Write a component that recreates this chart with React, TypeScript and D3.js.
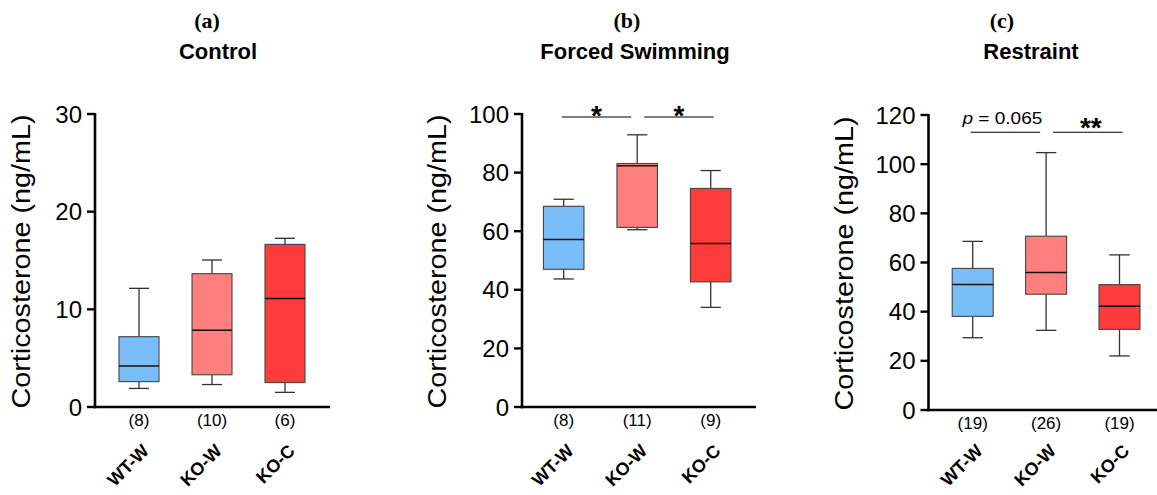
import React from "react";
import * as d3 from "d3";

const categories = ["WT-W", "KO-W", "KO-C"];
const colors = ["#78BDF8", "#FF7F7F", "#FF3B3B"];

const panelLetters = ["(a)", "(b)", "(c)"];
const panelTitles = ["Control", "Forced Swimming", "Restraint"];

// [min, q1, median, q3, max]
const controlStats = [
  [1.9, 2.6, 4.2, 7.2, 12.15],
  [2.3, 3.3, 7.85, 13.65, 15.05],
  [1.5, 2.5, 11.1, 16.65, 17.27],
];
const swimStats = [
  [43.7, 47.0, 57.2, 68.5, 70.9],
  [60.5, 61.3, 82.3, 83.1, 92.9],
  [34.0, 42.7, 55.8, 74.6, 80.7],
];
const restraintStats = [
  [29.4, 38.1, 51.1, 57.6, 68.6],
  [32.4, 47.1, 55.9, 70.7, 104.7],
  [22.0, 32.8, 42.2, 51.0, 63.1],
];

const controlN = ["(8)", "(10)", "(6)"];
const swimN = ["(8)", "(11)", "(9)"];
const restraintN = ["(19)", "(26)", "(19)"];

const controlTicks = [0, 10, 20, 30];
const swimTicks = [0, 20, 40, 60, 80, 100];
const restraintTicks = [0, 20, 40, 60, 80, 100, 120];

const swimSig = [
  { from: 0, to: 1, value: 99, label: "*" },
  { from: 1, to: 2, value: 99, label: "*" },
];
const restraintSig = [
  { from: 0, to: 1, value: 113, label: "p = 0.065" },
  { from: 1, to: 2, value: 113, label: "**" },
];

const yLabel = "Corticosterone (ng/mL)";

const panels = [
  {
    stats: controlStats, n: controlN, ticks: controlTicks, sig: [] as any[],
    axisX: 95, xEnd: 330, yTop: 114, yBottom: 407, c0: 139, c1: 285, boxW: 40,
    letterX: 207, titleX: 218, labelX: 23, starDy: 8,
  },
  {
    stats: swimStats, n: swimN, ticks: swimTicks, sig: swimSig,
    axisX: 522, xEnd: 756, yTop: 114, yBottom: 407, c0: 563.7, c1: 710.7, boxW: 40.5,
    letterX: 627, titleX: 635, labelX: 439, starDy: 8,
  },
  {
    stats: restraintStats, n: restraintN, ticks: restraintTicks, sig: restraintSig,
    axisX: 928.5, xEnd: 1157, yTop: 115, yBottom: 410, c0: 972.7, c1: 1119.5, boxW: 41,
    letterX: 1002, titleX: 1031, labelX: 846, starDy: 5,
  },
];

const sans = "'Liberation Sans', Arial, Helvetica, sans-serif";
const serif = "'Liberation Serif', 'Times New Roman', serif";

function Panel({ p, idx }: { p: any; idx: number }) {
  const domainMax = p.ticks[p.ticks.length - 1];
  const y = d3.scaleLinear().domain([0, domainMax]).range([p.yBottom, p.yTop]);
  const x = d3.scalePoint<string>().domain(categories).range([p.c0, p.c1]);
  const hw = p.boxW / 2;
  const cap = p.boxW / 4;
  const midY = (p.yTop + p.yBottom) / 2 + 1;
  return (
    <g>
      <text x={p.letterX} y={28} textAnchor="middle" fontFamily={serif} fontWeight="bold" fontSize={22}>
        {panelLetters[idx]}
      </text>
      <text x={p.titleX} y={59} textAnchor="middle" fontFamily={sans} fontWeight="bold" fontSize={22}>
        {panelTitles[idx]}
      </text>
      <text
        transform={`translate(${p.labelX},${midY}) rotate(-90)`}
        dy="0.27em"
        textAnchor="middle"
        fontFamily={sans}
        fontSize={25}
        textLength={294}
        lengthAdjust="spacingAndGlyphs"
      >
        {yLabel}
      </text>
      {/* boxes */}
      {p.stats.map((s: number[], i: number) => {
        const cx = x(categories[i]) as number;
        return (
          <g key={i}>
            <line x1={cx} x2={cx} y1={y(s[4])} y2={y(s[3])} stroke="#333" strokeWidth={1.3} />
            <line x1={cx} x2={cx} y1={y(s[1])} y2={y(s[0])} stroke="#333" strokeWidth={1.3} />
            <line x1={cx - cap} x2={cx + cap} y1={y(s[4])} y2={y(s[4])} stroke="#333" strokeWidth={1.3} />
            <line x1={cx - cap} x2={cx + cap} y1={y(s[0])} y2={y(s[0])} stroke="#333" strokeWidth={1.3} />
            <rect x={cx - hw} y={y(s[3])} width={p.boxW} height={y(s[1]) - y(s[3])} fill={colors[i]} stroke="#444" strokeWidth={1.1} />
            <line x1={cx - hw} x2={cx + hw} y1={y(s[2])} y2={y(s[2])} stroke="#111" strokeWidth={1.5} />
          </g>
        );
      })}
      {/* axes */}
      <line x1={p.axisX} x2={p.axisX} y1={p.yTop - 1} y2={p.yBottom + 1.2} stroke="#000" strokeWidth={2.6} />
      <line x1={p.axisX - 1.3} x2={p.xEnd} y1={p.yBottom} y2={p.yBottom} stroke="#000" strokeWidth={2.6} />
      {p.ticks.map((t: number) => (
        <g key={t}>
          <line x1={p.axisX - 8} x2={p.axisX} y1={y(t)} y2={y(t)} stroke="#000" strokeWidth={2.4} />
          <text x={p.axisX - 13} y={y(t)} dy="0.36em" textAnchor="end" fontFamily={sans} fontSize={24}>
            {t}
          </text>
        </g>
      ))}
      {/* n labels */}
      {p.n.map((t: string, i: number) => (
        <text key={t + i} x={x(categories[i]) as number} y={p.yBottom + 19} textAnchor="middle" fontFamily={sans} fontSize={17}>
          {t}
        </text>
      ))}
      {/* category labels */}
      {categories.map((c) => {
        const cx = (x(c) as number) + 11;
        return (
          <text key={c} transform={`translate(${cx},452) rotate(-45)`} textAnchor="end" fontFamily={sans} fontWeight="bold" fontSize={18}>
            {c}
          </text>
        );
      })}
      {/* significance */}
      {p.sig.map((s: any, k: number) => {
        const a = x(categories[s.from]) as number;
        const b = x(categories[s.to]) as number;
        const x1 = k === 0 ? a - 2 : a + 7;
        const x2 = k === 0 ? b - 6 : b + 3;
        const ly = y(s.value);
        const isP = s.label.startsWith("p");
        return (
          <g key={k}>
            <line x1={x1} x2={x2} y1={ly} y2={ly} stroke="#000" strokeWidth={1.1} />
            {isP ? (
              <text x={(x1 + x2) / 2 - 3} y={ly - 8} textAnchor="middle" fontFamily={sans} fontSize={17} textLength={80} lengthAdjust="spacingAndGlyphs">
                <tspan fontStyle="italic">p</tspan>
                <tspan> = 0.065</tspan>
              </text>
            ) : (
              <text x={(x1 + x2) / 2 + (s.label.length > 1 ? 3 : 0)} y={ly + p.starDy} textAnchor="middle" fontFamily={sans} fontWeight="bold" fontSize={28}>
                {s.label}
              </text>
            )}
          </g>
        );
      })}
    </g>
  );
}

export default function App() {
  return (
    <svg
      width={1157}
      height={495}
      style={{ position: "absolute", left: 0, top: 0, display: "block", background: "#fff" }}
    >
      <rect width={1157} height={495} fill="#fff" />
      {panels.map((p, i) => (
        <Panel key={i} p={p} idx={i} />
      ))}
    </svg>
  );
}
